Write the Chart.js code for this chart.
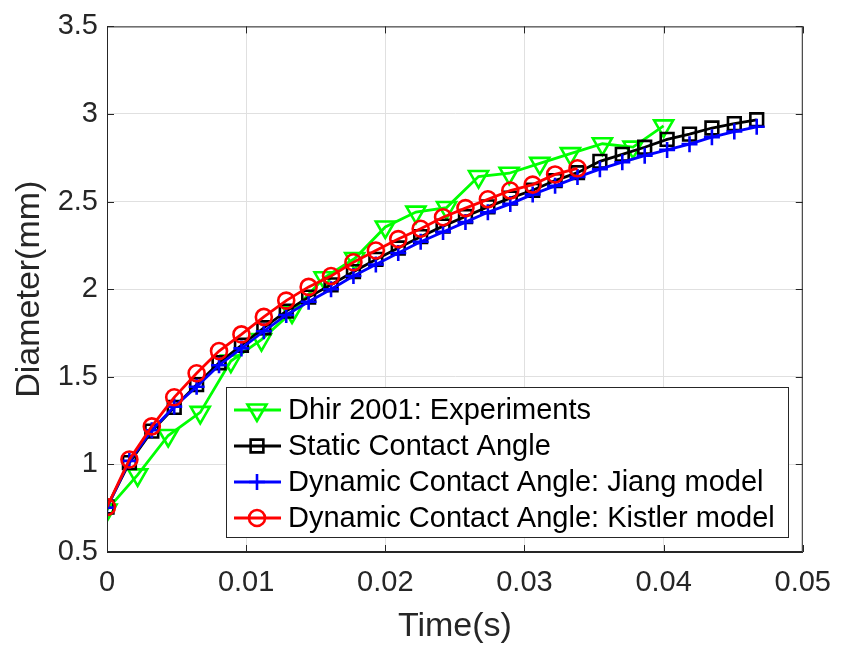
<!DOCTYPE html>
<html>
<head>
<meta charset="utf-8">
<script src="https://cdn.jsdelivr.net/npm/chart.js@4.4.1/dist/chart.umd.min.js"></script>
<style>
  html, body { margin: 0; padding: 0; background: #fff; }
  #wrap { width: 845px; height: 650px; }
</style>
</head>
<body>
<div id="wrap"><canvas id="diamChart" width="845" height="650"></canvas></div>
<script>
// time axis values (s)
const simTime = [0, 0.00161, 0.00322, 0.00483, 0.00644, 0.00805, 0.00966, 0.01127, 0.01288, 0.01449,
  0.0161, 0.01771, 0.01932, 0.02093, 0.02254, 0.02415, 0.02576, 0.02737, 0.02898, 0.03059,
  0.0322, 0.03381, 0.03542, 0.03703, 0.03864, 0.04025, 0.04186, 0.04347, 0.04508, 0.04669];
const expTime = [0, 0.0022, 0.0044, 0.0067, 0.0089, 0.0111, 0.0133, 0.0156, 0.0178, 0.02,
  0.0222, 0.0244, 0.0267, 0.0289, 0.0311, 0.0333, 0.0356, 0.0378, 0.04];

// diameters (mm)
const dhirExp = [0.74, 0.94, 1.165, 1.297, 1.59, 1.712, 1.87, 2.065, 2.175, 2.355,
  2.44, 2.466, 2.643, 2.662, 2.718, 2.774, 2.83, 2.811, 2.932];
const staticAngle = [0.757, 1.01, 1.19, 1.325, 1.455, 1.58, 1.68, 1.78, 1.875, 1.955,
  2.025, 2.1, 2.17, 2.235, 2.3, 2.36, 2.415, 2.47, 2.52, 2.565,
  2.62, 2.665, 2.73, 2.77, 2.81, 2.855, 2.885, 2.92, 2.945, 2.967];
const jiangModel = [0.753, 1.02, 1.195, 1.33, 1.443, 1.566, 1.662, 1.76, 1.853, 1.928,
  2.0, 2.075, 2.141, 2.207, 2.271, 2.327, 2.383, 2.439, 2.487, 2.541,
  2.59, 2.64, 2.685, 2.725, 2.762, 2.795, 2.828, 2.868, 2.9, 2.927];
const kistlerModel = [0.757, 1.028, 1.217, 1.383, 1.52, 1.647, 1.742, 1.842, 1.935, 2.013,
  2.075, 2.154, 2.221, 2.286, 2.345, 2.411, 2.463, 2.513, 2.563, 2.597,
  2.655, 2.69];

const seriesNames = ['Dhir 2001: Experiments', 'Static Contact Angle',
  'Dynamic Contact Angle: Jiang model', 'Dynamic Contact Angle: Kistler model'];

// tick labels
const xTickLabels = ['0', '0.01', '0.02', '0.03', '0.04', '0.05'];
const yTickLabels = ['0.5', '1', '1.5', '2', '2.5', '3', '3.5'];

const AXIS_COLOR = '#262626';
const GRID_COLOR = '#e0e0e0';
const FONT = '"Liberation Sans", Arial, sans-serif';

function pts(xs, ys) {
    return ys.map((y, i) => ({ x: xs[i], y: y }));
}

const datasets = [
    {
        label: seriesNames[0], data: pts(expTime, dhirExp),
        borderColor: '#00ff00',
        pointStyle: 'triangle', pointRotation: 180, pointRadius: 11,
        order: 4
    },
    {
        label: seriesNames[1], data: pts(simTime, staticAngle),
        borderColor: '#000000',
        pointStyle: 'rect', pointRadius: 9,
        order: 3
    },
    {
        label: seriesNames[2], data: pts(simTime, jiangModel),
        borderColor: '#0000ff',
        pointStyle: 'cross', pointRadius: 8,
        order: 2
    },
    {
        label: seriesNames[3], data: pts(simTime.slice(0, kistlerModel.length), kistlerModel),
        borderColor: '#ff0000',
        pointStyle: 'circle', pointRadius: 8,
        order: 1
    }
];
datasets.forEach(ds => {
    ds.backgroundColor = 'rgba(0,0,0,0)';
    ds.borderWidth = 2.8;
    ds.pointBorderWidth = 2.6;
    ds.pointBorderColor = ds.borderColor;
    ds.pointBackgroundColor = 'rgba(0,0,0,0)';
    ds.tension = 0;
    ds.fill = false;
});

// box round the plot and ticks pointing inwards
const boxPlugin = {
    id: 'boxPlugin',
    afterDraw(chart) {
        const ctx = chart.ctx;
        const a = chart.chartArea;
        const xs = chart.scales.x, ys = chart.scales.y;
        ctx.save();
        ctx.strokeStyle = AXIS_COLOR;
        ctx.lineWidth = 1;
        ctx.strokeRect(a.left + 0.5, a.top + 0.5, a.right - a.left - 1, a.bottom - a.top - 1);
        ctx.beginPath();
        xs.ticks.forEach(t => {
            const px = Math.round(xs.getPixelForValue(t.value)) + 0.5;
            ctx.moveTo(px, a.bottom); ctx.lineTo(px, a.bottom - 7);
            ctx.moveTo(px, a.top); ctx.lineTo(px, a.top + 7);
        });
        ys.ticks.forEach(t => {
            const py = Math.round(ys.getPixelForValue(t.value)) + 0.5;
            ctx.moveTo(a.left, py); ctx.lineTo(a.left + 7, py);
            ctx.moveTo(a.right, py); ctx.lineTo(a.right - 7, py);
        });
        ctx.stroke();
        ctx.restore();
    }
};

// legend box inside the plot, lower right
const legendPlugin = {
    id: 'insideLegend',
    afterDraw(chart) {
        const ctx = chart.ctx;
        const left = 226, top = 387, right = 788, bottom = 537;
        ctx.save();
        ctx.fillStyle = '#ffffff';
        ctx.fillRect(left, top, right - left, bottom - top);
        ctx.strokeStyle = AXIS_COLOR;
        ctx.lineWidth = 1;
        ctx.strokeRect(left + 0.5, top + 0.5, right - left, bottom - top);
        ctx.font = '29px ' + FONT;
        ctx.textBaseline = 'middle';
        ctx.textAlign = 'left';
        chart.data.datasets.forEach((ds, i) => {
            const cy = top + 23 + i * 36;
            ctx.strokeStyle = ds.borderColor;
            ctx.lineWidth = ds.borderWidth;
            ctx.beginPath();
            ctx.moveTo(234, cy); ctx.lineTo(281, cy);
            ctx.stroke();
            ctx.fillStyle = 'rgba(0,0,0,0)';
            ctx.lineWidth = ds.pointBorderWidth;
            Chart.helpers.drawPoint(ctx, {
                pointStyle: ds.pointStyle,
                rotation: ds.pointRotation || 0,
                radius: ds.pointRadius,
                borderWidth: ds.pointBorderWidth
            }, 257, cy);
            ctx.fillStyle = '#000000';
            ctx.fillText(ds.label, 288, cy + 1);
        });
        ctx.restore();
    }
};

new Chart(document.getElementById('diamChart'), {
    type: 'line',
    data: { datasets: datasets },
    plugins: [boxPlugin, legendPlugin],
    options: {
        responsive: false,
        animation: false,
        events: [],
        layout: { padding: { left: 0, top: 15, right: 33, bottom: 0 } },
        plugins: {
            legend: { display: false },
            tooltip: { enabled: false }
        },
        scales: {
            x: {
                type: 'linear',
                min: 0, max: 0.05,
                afterFit: s => { s.height = 98; },
                ticks: {
                    stepSize: 0.01,
                    color: AXIS_COLOR,
                    padding: 14,
                    font: { family: FONT, size: 29 },
                    callback: (v, i) => xTickLabels[i]
                },
                grid: { color: GRID_COLOR, tickLength: 0, lineWidth: 1 },
                border: { display: true, color: AXIS_COLOR },
                title: {
                    display: true, text: 'Time(s)', color: AXIS_COLOR,
                    font: { family: FONT, size: 34 }, padding: { top: 0, bottom: 3 }
                }
            },
            y: {
                type: 'linear',
                min: 0.5, max: 3.5,
                afterFit: s => { s.width = 107; },
                ticks: {
                    stepSize: 0.5,
                    color: AXIS_COLOR,
                    padding: 9,
                    font: { family: FONT, size: 29 },
                    callback: (v, i) => yTickLabels[i]
                },
                grid: { color: GRID_COLOR, tickLength: 0, lineWidth: 1 },
                border: { display: true, color: AXIS_COLOR },
                title: {
                    display: true, text: 'Diameter(mm)', color: AXIS_COLOR,
                    font: { family: FONT, size: 34 }, padding: { top: 9, bottom: 0 }
                }
            }
        }
    }
});
</script>
</body>
</html>
